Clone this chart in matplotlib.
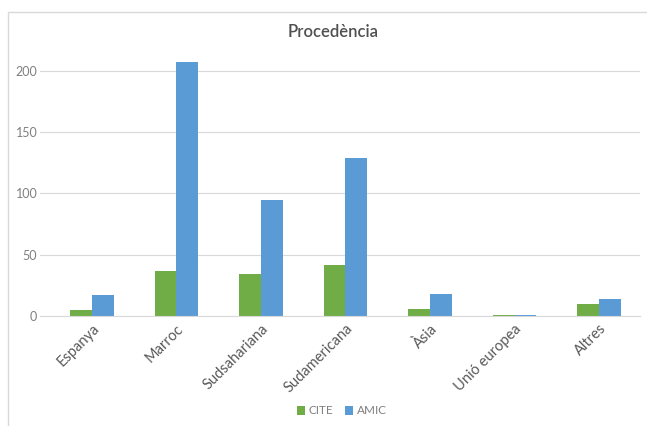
import matplotlib
matplotlib.use("Agg")
import matplotlib.pyplot as plt
from matplotlib.patches import Rectangle
import numpy as np

categories = ["Espanya", "Marroc", "Sudsahariana", "Sudamericana", "Àsia", "Unió europea", "Altres"]
cite = [5, 37, 34, 42, 6, 1, 10]
amic = [17, 207, 95, 129, 18, 1, 14]
yticks = [0, 50, 100, 150, 200]

plt.rcParams["font.family"] = ["Lato", "DejaVu Sans"]

W, H = 647, 426
fig = plt.figure(figsize=(W / 100, H / 100), dpi=100)

# chart frame
fig.patches.append(Rectangle((8 / W, -0.1), 1.2, (H - 12) / H + 0.1,
                             transform=fig.transFigure, fill=False,
                             edgecolor="#d9d9d9", linewidth=1.0))

ax = fig.add_axes([40 / W, (H - 316) / H, 600 / W, 263.4 / H])
x = np.arange(len(categories))
bw = 0.26
green = "#70ad47"
blue = "#5b9bd5"
ax.bar(x - bw / 2, cite, bw, color=green, label="CITE")
ax.bar(x + bw / 2, amic, bw, color=blue, label="AMIC")

ax.set_xlim(-0.615, 6.485)
ax.set_ylim(0, 215)
ax.set_yticks(yticks)
ax.set_yticklabels([str(v) for v in yticks])
ax.yaxis.grid(True, color="#d9d9d9", linewidth=0.8)
ax.set_axisbelow(True)
for s in ["top", "right", "left"]:
    ax.spines[s].set_visible(False)
ax.spines["bottom"].set_color("#d9d9d9")
ax.tick_params(axis="y", length=0, colors="#7f7f7f", labelsize=9, pad=2)
ax.tick_params(axis="x", length=0, colors="#595959", labelsize=10.5, pad=4)
ax.set_xticks(x)
ax.set_xticklabels(categories, rotation=45, ha="right", rotation_mode="anchor")

fig.text(333 / W, 1 - 32 / H, "Procedència", ha="center", va="center",
         fontsize=12, fontweight="semibold", color="#505050")

fig.legend(loc="center", bbox_to_anchor=(342 / W, 1 - 411 / H), ncol=2,
           frameon=False, fontsize=8.5, labelcolor="#7f7f7f",
           handlelength=0.7, handleheight=0.7, handletextpad=0.3,
           columnspacing=1.0)

fig.savefig("out.png", dpi=100)
